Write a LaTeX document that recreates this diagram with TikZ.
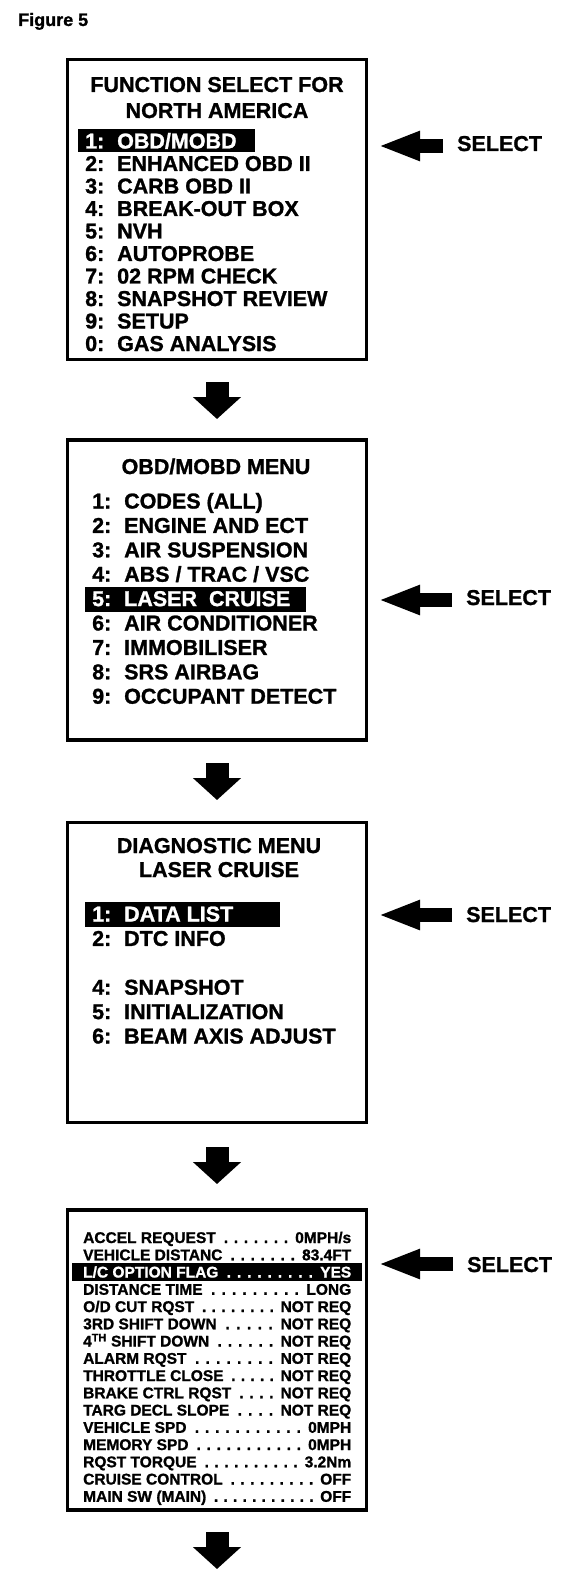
\documentclass[tikz,border=0pt]{standalone}
\usepackage{fontspec}
\setmainfont{Liberation Sans}[BoldFeatures={FakeBold=1.2}]
\usetikzlibrary{arrows.meta}

\newcommand\menufont{\fontsize{21.5}{24}\selectfont\bfseries}
\newcommand\datafont{\fontsize{15.5}{17}\selectfont\bfseries}
\newcommand\itemno[1]{\makebox[32pt][l]{#1}}
\newcommand\dotlead{\hskip 5pt\xleaders\hbox to 9.5pt{\hss.\hss}\hfill\hskip 4pt}
\newcommand\datarow[2]{\makebox[268pt]{#1\dotlead #2}}

\begin{document}
\begin{tikzpicture}[x=1pt,y=-1pt,
        menubox/.style={draw,line width=3.5pt,minimum width=299pt,
            minimum height=300pt,inner sep=0pt,outer sep=0pt},
        title/.style={anchor=base,inner sep=0pt,font=\menufont},
        txt/.style={anchor=base west,inner sep=0pt,font=\menufont},
        row/.style={anchor=base west,inner sep=0pt,font=\datafont},
        hilite/.style={fill=black},
        down/.style={line width=23pt,-{Triangle[width=47pt,length=22pt]}},
        point/.style={line width=14pt,-{Triangle[width=27pt,length=42pt]},
            shorten <=14pt}]
    \useasboundingbox (0,0) rectangle (576,1578);
    \node[anchor=base west,inner sep=0pt,font=\fontsize{18}{20}\selectfont\bfseries] (fig) at (18,26) {Figure 5};

% box 1
    \node[menubox] (box1) at (217,209.5) {};
    \node[title] (b1t1) at (217,92) {FUNCTION SELECT FOR};
    \node[title] (b1t2) at (217,118) {NORTH AMERICA};
    \fill[hilite] (78,129) rectangle (255,152);
    \node[txt,text=white] (b1i1) at (85,148.5) {\itemno{1:}OBD/MOBD};
    \node[txt] (b1i2) at (85,171) {\itemno{2:}ENHANCED OBD II};
    \node[txt] (b1i3) at (85,193.5) {\itemno{3:}CARB OBD II};
    \node[txt] (b1i4) at (85,216) {\itemno{4:}BREAK-OUT BOX};
    \node[txt] (b1i5) at (85,238.5) {\itemno{5:}NVH};
    \node[txt] (b1i6) at (85,261) {\itemno{6:}AUTOPROBE};
    \node[txt] (b1i7) at (85,283.5) {\itemno{7:}02 RPM CHECK};
    \node[txt] (b1i8) at (85,306) {\itemno{8:}SNAPSHOT REVIEW};
    \node[txt] (b1i9) at (85,328.5) {\itemno{9:}SETUP};
    \node[txt] (b1i0) at (85,351) {\itemno{0:}GAS ANALYSIS};
    \node[txt] (sel1) at (457,151) {SELECT};
    \coordinate (tip1) at (378,146);
    \draw[point] (sel1.west |- tip1) -- (tip1);

% box 2
    \node[menubox] (box2) at (217,590) {};
    \node[title] (b2t1) at (216,474) {OBD/MOBD MENU};
    \fill[hilite] (84.5,587) rectangle (306,612);
    \node[txt] (b2i1) at (92,508.5) {\itemno{1:}CODES (ALL)};
    \node[txt] (b2i2) at (92,532.9) {\itemno{2:}ENGINE AND ECT};
    \node[txt] (b2i3) at (92,557.3) {\itemno{3:}AIR SUSPENSION};
    \node[txt] (b2i4) at (92,581.7) {\itemno{4:}ABS / TRAC / VSC};
    \node[txt,text=white] (b2i5) at (92,606.1) {\itemno{5:}LASER\ \ CRUISE};
    \node[txt] (b2i6) at (92,630.5) {\itemno{6:}AIR CONDITIONER};
    \node[txt] (b2i7) at (92,654.9) {\itemno{7:}IMMOBILISER};
    \node[txt] (b2i8) at (92,679.3) {\itemno{8:}SRS AIRBAG};
    \node[txt] (b2i9) at (92,703.7) {\itemno{9:}OCCUPANT DETECT};
    \node[txt] (sel2) at (466,605) {SELECT};
    \coordinate (tip2) at (378,600);
    \draw[point] (sel2.west |- tip2) -- (tip2);

% box 3
    \node[menubox] (box3) at (217,972.5) {};
    \node[title] (b3t1) at (219,853) {DIAGNOSTIC MENU};
    \node[title] (b3t2) at (219,877) {LASER CRUISE};
    \fill[hilite] (84.5,902) rectangle (280,927);
    \node[txt,text=white] (b3i1) at (92,921.5) {\itemno{1:}DATA LIST};
    \node[txt] (b3i2) at (92,945.9) {\itemno{2:}DTC INFO};
    \node[txt] (b3i4) at (92,994.7) {\itemno{4:}SNAPSHOT};
    \node[txt] (b3i5) at (92,1019.1) {\itemno{5:}INITIALIZATION};
    \node[txt] (b3i6) at (92,1043.5) {\itemno{6:}BEAM AXIS ADJUST};
    \node[txt] (sel3) at (466,922) {SELECT};
    \coordinate (tip3) at (378,915);
    \draw[point] (sel3.west |- tip3) -- (tip3);

% box 4
    \node[menubox] (box4) at (217,1360) {};
    \fill[hilite] (72,1263) rectangle (362,1281);
    \node[row] (r1) at (83,1243) {\datarow{ACCEL REQUEST}{0MPH/s}};
    \node[row] (r2) at (83,1260.25) {\datarow{VEHICLE DISTANC}{83.4FT}};
    \node[row,text=white] (r3) at (83,1277.5) {\datarow{L/C OPTION FLAG}{YES}};
    \node[row] (r4) at (83,1294.75) {\datarow{DISTANCE TIME}{LONG}};
    \node[row] (r5) at (83,1312) {\datarow{O/D CUT RQST}{NOT REQ}};
    \node[row] (r6) at (83,1329.25) {\datarow{3RD SHIFT DOWN}{NOT REQ}};
    \node[row] (r7) at (83,1346.5) {\datarow{4\textsuperscript{TH} SHIFT DOWN}{NOT REQ}};
    \node[row] (r8) at (83,1363.75) {\datarow{ALARM RQST}{NOT REQ}};
    \node[row] (r9) at (83,1381) {\datarow{THROTTLE CLOSE}{NOT REQ}};
    \node[row] (r10) at (83,1398.25) {\datarow{BRAKE CTRL RQST}{NOT REQ}};
    \node[row] (r11) at (83,1415.5) {\datarow{TARG DECL SLOPE}{NOT REQ}};
    \node[row] (r12) at (83,1432.75) {\datarow{VEHICLE SPD}{0MPH}};
    \node[row] (r13) at (83,1450) {\datarow{MEMORY SPD}{0MPH}};
    \node[row] (r14) at (83,1467.25) {\datarow{RQST TORQUE}{3.2Nm}};
    \node[row] (r15) at (83,1484.5) {\datarow{CRUISE CONTROL}{OFF}};
    \node[row] (r16) at (83,1501.75) {\datarow{MAIN SW (MAIN)}{OFF}};
    \node[txt] (sel4) at (467,1272) {SELECT};
    \coordinate (tip4) at (378,1264);
    \draw[point] (sel4.west |- tip4) -- (tip4);

% arrows between the screens
    \draw[down,shorten <=22.5pt,shorten >=21pt] (box1) -- (box2);
    \draw[down,shorten <=23pt,shorten >=22.5pt] (box2) -- (box3);
    \draw[down,shorten <=24.5pt,shorten >=26pt] (box3) -- (box4);
    \coordinate (out) at ([yshift=-59pt]box4.south);
    \draw[down,shorten <=22pt] (box4) -- (out);
\end{tikzpicture}
\end{document}
